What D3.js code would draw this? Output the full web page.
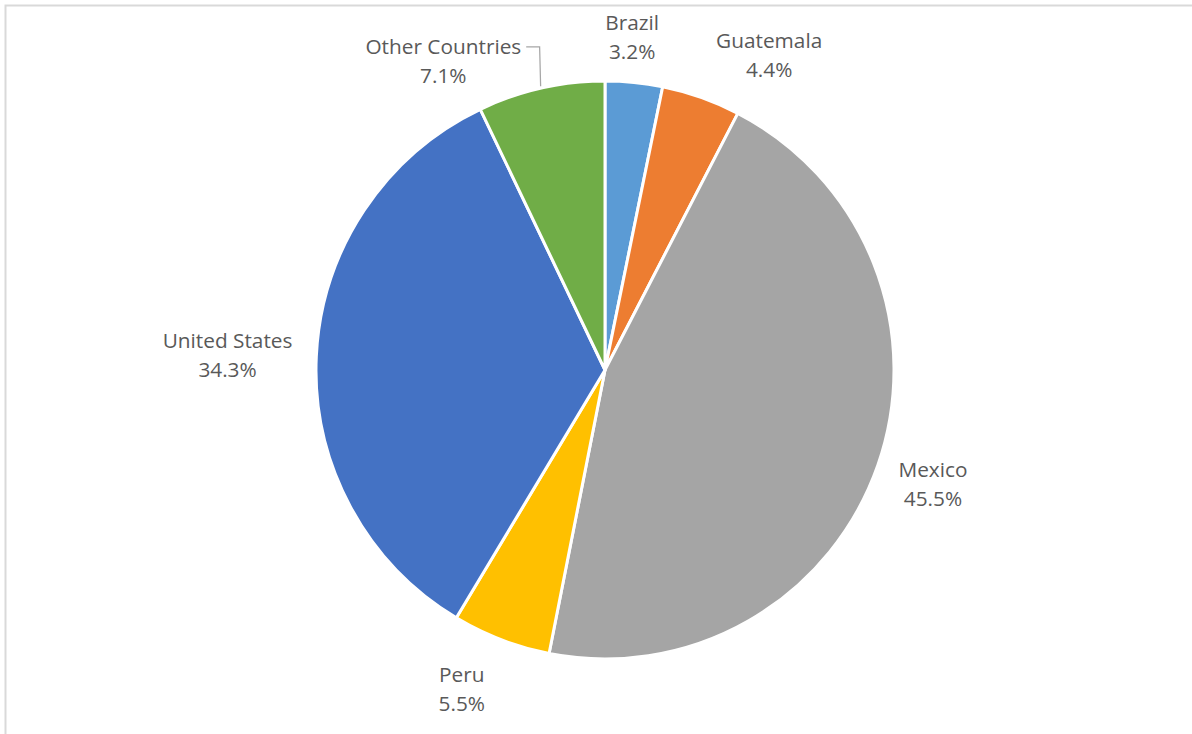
<!DOCTYPE html>
<html>
<head>
<meta charset="utf-8">
<script src="https://cdn.jsdelivr.net/npm/d3@7"></script>
<style>
  html, body { margin: 0; padding: 0; background: #fff; }
  svg { display: block; }
</style>
</head>
<body>
<svg id="chart" width="1192" height="734"></svg>
<script>
// Share of total by country (percent)
const countries = ["Brazil", "Guatemala", "Mexico", "Peru", "United States", "Other Countries"];
const shares = [3.2, 4.4, 45.5, 5.5, 34.3, 7.1];
const colors = ["#5B9BD5", "#ED7D31", "#A5A5A5", "#FFC000", "#4472C4", "#70AD47"];

// Label layout tweaks (pixels) applied after the outside-end placement
const labelNudge = [[-7, 8], [42, 8], [-1, 0], [-22, -2], [1, 1], [-75, 25]];
const leaderFor = ["Other Countries"];

const W = 1192, H = 734;
const cx = 605, cy = 370, R = 289;
const labelGap = 25, halfBox = 29, lineGap = 29;

const svg = d3.select("#chart");

// Chart area frame
svg.append("rect")
  .attr("x", 5.5).attr("y", 5.5)
  .attr("width", W + 20).attr("height", H + 20)
  .attr("fill", "#fff")
  .attr("stroke", "#d9d9d9")
  .attr("stroke-width", 2);

const data = countries.map((c, i) => ({ name: c, value: shares[i], color: colors[i] }));

const pie = d3.pie().value(d => d.value).sort(null);
const arcs = pie(data);
const arc = d3.arc().innerRadius(0).outerRadius(R);

const g = svg.append("g").attr("transform", `translate(${cx},${cy})`);

g.selectAll("path.slice")
  .data(arcs)
  .join("path")
  .attr("class", "slice")
  .attr("d", arc)
  .attr("fill", d => d.data.color)
  .attr("stroke", "#fff")
  .attr("stroke-width", 3)
  .attr("stroke-linejoin", "round");

// Labels: name on the first line, share on the second
const fmt = d => d.toFixed(1) + "%";
const labelLayer = g.append("g")
  .attr("font-family", "'Open Sans', 'Noto Sans', sans-serif")
  .attr("font-size", 20.8)
  .attr("fill", "#595959");

arcs.forEach((a, i) => {
  const mid = (a.startAngle + a.endAngle) / 2;
  const sx = Math.sin(mid), sy = -Math.cos(mid);
  const px = sx * (R + labelGap), py = sy * (R + labelGap);

  const t = labelLayer.append("text").attr("text-anchor", "middle");
  const l1 = t.append("tspan").text(a.data.name);
  const l2 = t.append("tspan").text(fmt(a.data.value));
  const hw = Math.max(l1.node().getComputedTextLength(), l2.node().getComputedTextLength()) / 2;

  const x = px + hw * sx + labelNudge[i][0];
  const y = py + halfBox * sy + labelNudge[i][1];
  l1.attr("x", x).attr("y", y - lineGap / 2).attr("dominant-baseline", "central");
  l2.attr("x", x).attr("y", y + lineGap / 2).attr("dominant-baseline", "central");

  if (leaderFor.includes(a.data.name)) {
    const ex = sx * (R + 2), ey = sy * (R + 2);
    const startX = x + hw + 5, lineY = y - lineGap / 2 + 1;
    labelLayer.append("path")
      .attr("d", d3.line()([[startX, lineY], [ex - 1, lineY], [ex, ey]]))
      .attr("fill", "none")
      .attr("stroke", "#a6a6a6")
      .attr("stroke-width", 1.25);
  }
});
</script>
</body>
</html>
